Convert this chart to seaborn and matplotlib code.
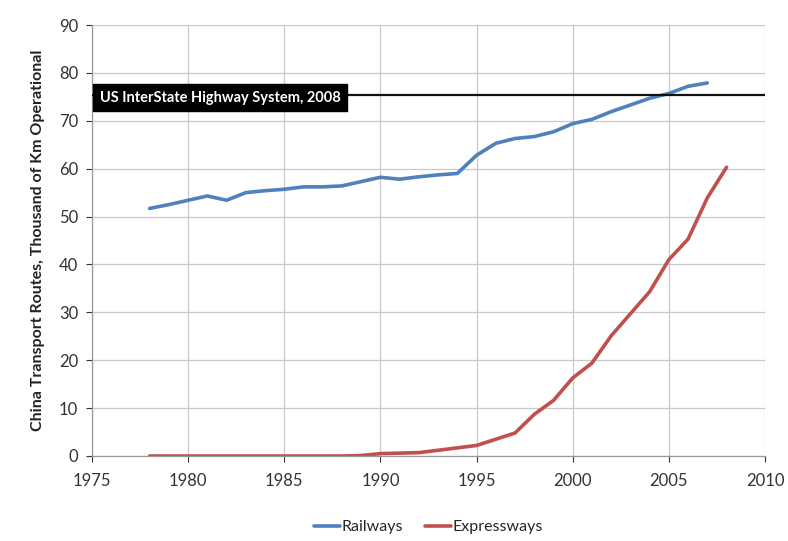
import matplotlib
matplotlib.use("Agg")
import matplotlib.pyplot as plt
import seaborn as sns
import pandas as pd

# Route length in thousands of km operational
rail_years = list(range(1978, 2008))
railways = [51.7, 52.5, 53.4, 54.3, 53.4, 55.0, 55.4, 55.7, 56.2, 56.2,
            56.4, 57.3, 58.2, 57.8, 58.3, 58.7, 59.0, 62.8, 65.3, 66.3,
            66.7, 67.7, 69.4, 70.3, 71.9, 73.3, 74.7, 75.7, 77.2, 77.9]

expr_years = list(range(1978, 2009))
expressways = [0.0, 0.0, 0.0, 0.0, 0.0, 0.0, 0.0, 0.0, 0.0, 0.0,
               0.0, 0.1, 0.5, 0.6, 0.7, 1.2, 1.7, 2.2, 3.5, 4.8,
               8.7, 11.6, 16.3, 19.4, 25.1, 29.7, 34.3, 41.0, 45.3, 53.9,
               60.3]

us_interstate = 75.4
us_label = "US InterState Highway System, 2008"

x_ticks = [1975, 1980, 1985, 1990, 1995, 2000, 2005, 2010]
y_ticks = [0, 10, 20, 30, 40, 50, 60, 70, 80, 90]

df = pd.concat([
    pd.DataFrame({"Year": rail_years, "Km": railways, "Route": "Railways"}),
    pd.DataFrame({"Year": expr_years, "Km": expressways, "Route": "Expressways"}),
])

sns.set_style("white")
plt.rcParams["font.family"] = ["Lato", "DejaVu Sans"]

fig = plt.figure(figsize=(7.88, 5.41), dpi=100)
ax = fig.add_axes([92 / 788, 1 - 456 / 541, (765 - 92) / 788, (456 - 25) / 541])

sns.lineplot(data=df, x="Year", y="Km", hue="Route",
             palette={"Railways": "#4F81BD", "Expressways": "#C0504D"},
             linewidth=2.6, ax=ax, legend=True)

ax.axhline(us_interstate, color="#111111", linewidth=1.6, zorder=3)
ax.text(1975.4, us_interstate - 0.6, us_label, color="white", fontsize=10.5,
        fontweight="bold", va="center", ha="left", zorder=4,
        bbox=dict(boxstyle="square,pad=0.45", facecolor="black", edgecolor="black"))

ax.set_xlim(1975, 2010)
ax.set_ylim(0, 90)
ax.set_xticks(x_ticks)
ax.set_yticks(y_ticks)
ax.tick_params(axis="both", labelsize=12, colors="#333333", length=4,
               direction="out", bottom=True, left=True, width=0.8)
ax.tick_params(axis="x", pad=8)
ax.tick_params(axis="y", pad=6)
ax.grid(True, color="#c8c8c8", linewidth=0.9)
for side in ("top", "right"):
    ax.spines[side].set_visible(False)
for side in ("left", "bottom"):
    ax.spines[side].set_color("#999999")
    ax.spines[side].set_linewidth(0.9)

ax.set_xlabel("")
ax.set_ylabel("China Transport Routes, Thousand of Km Operational",
              fontsize=11.5, fontweight="bold", color="#222222", labelpad=10)

handles, labels = ax.get_legend_handles_labels()
ax.legend(handles, labels, loc="upper center", bbox_to_anchor=(0.5, -0.115),
          ncol=2, frameon=False, fontsize=11.5, handlelength=1.6,
          handletextpad=0.1, columnspacing=1.4)

fig.savefig("out.png", dpi=100, facecolor="white")
